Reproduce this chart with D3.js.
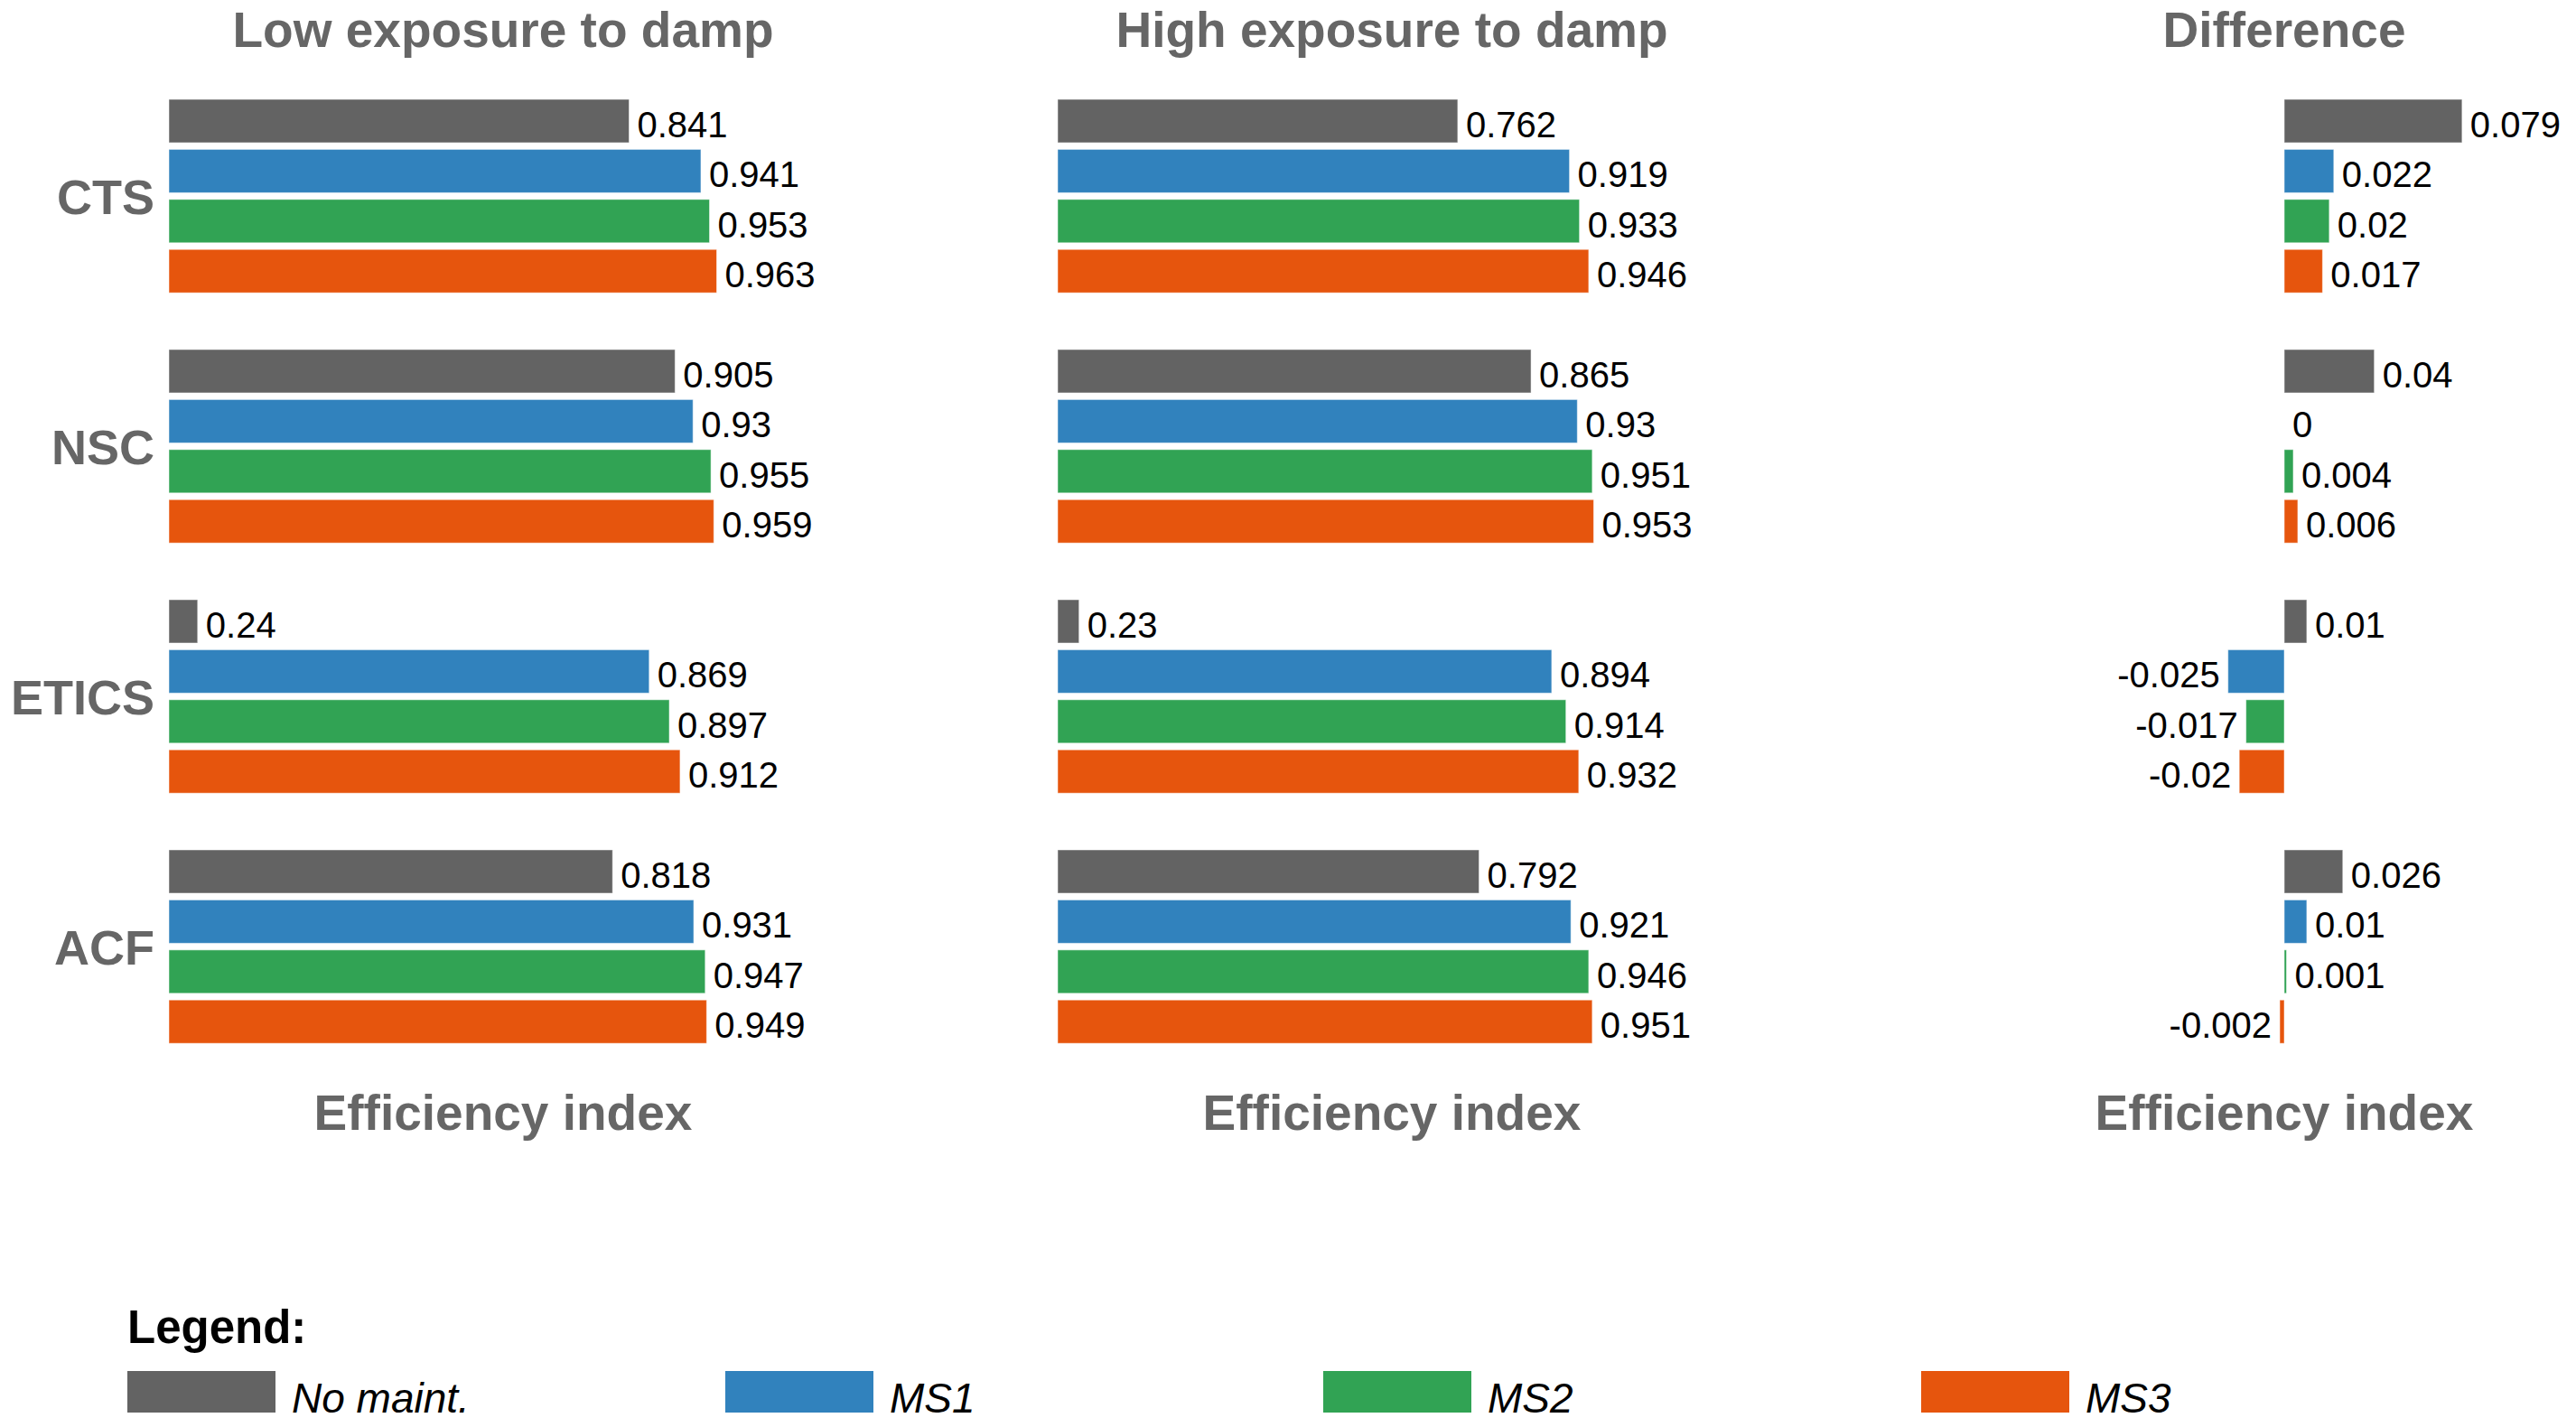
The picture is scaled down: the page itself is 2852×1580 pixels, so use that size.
<!DOCTYPE html>
<html>
<head>
<meta charset="utf-8">
<script src="https://cdn.jsdelivr.net/npm/d3@7"></script>
<style>
  html, body { margin: 0; padding: 0; background: #fff; }
  text { font-family: "Liberation Sans", Arial, Helvetica, sans-serif; }
</style>
</head>
<body>
<script>
// data
var categories = ['CTS', 'NSC', 'ETICS', 'ACF'];
var seriesNames = ['No maint.', 'MS1', 'MS2', 'MS3'];
var seriesColors = ['#636363', '#3182bd', '#31a354', '#e6550d'];

var lowValues = [
  [0.841, 0.941, 0.953, 0.963],
  [0.905, 0.93, 0.955, 0.959],
  [0.24, 0.869, 0.897, 0.912],
  [0.818, 0.931, 0.947, 0.949]
];
var highValues = [
  [0.762, 0.919, 0.933, 0.946],
  [0.865, 0.93, 0.951, 0.953],
  [0.23, 0.894, 0.914, 0.932],
  [0.792, 0.921, 0.946, 0.951]
];
var diffValues = [
  [0.079, 0.022, 0.02, 0.017],
  [0.04, 0, 0.004, 0.006],
  [0.01, -0.025, -0.017, -0.02],
  [0.026, 0.01, 0.001, -0.002]
];

var panelTitles = ['Low exposure to damp', 'High exposure to damp', 'Difference'];
var axisTitle = 'Efficiency index';

var W = 2852, H = 1580;
var svg = d3.select('body').append('svg').attr('width', W).attr('height', H);

// vertical scales shared by all panels
var y0 = d3.scaleBand().domain(categories).range([110, 1218]).padding(0);
var y1 = d3.scaleBand().domain(seriesNames).range([0, 214.2]).paddingInner(0.1336).paddingOuter(0);

var panels = [
  { title: panelTitles[0], data: lowValues, x: d3.scaleLinear().domain([0.2, 1.131]).range([187, 927]), base: 0.2 },
  { title: panelTitles[1], data: highValues, x: d3.scaleLinear().domain([0.2, 1.139]).range([1171, 1911]), base: 0.2 },
  { title: panelTitles[2], data: diffValues, x: d3.scaleLinear().domain([-0.12, 0.12]).range([2230, 2828]), base: 0 }
];

panels.forEach(function (p) {
  var g = svg.append('g');
  var cx = (p.x.range()[0] + p.x.range()[1]) / 2;
  if (p.base === 0) cx = p.x(0);

  g.append('text')
    .attr('x', cx).attr('y', 52)
    .attr('text-anchor', 'middle')
    .attr('font-size', 55).attr('font-weight', 'bold')
    .attr('fill', '#666')
    .text(p.title);

  g.append('text')
    .attr('x', cx).attr('y', 1251)
    .attr('text-anchor', 'middle')
    .attr('font-size', 55).attr('font-weight', 'bold')
    .attr('fill', '#666')
    .text(axisTitle);

  var rows = [];
  categories.forEach(function (c, i) {
    seriesNames.forEach(function (s, j) {
      rows.push({ cat: c, ser: s, j: j, v: p.data[i][j] });
    });
  });

  g.selectAll('rect.bar')
    .data(rows)
    .enter().append('rect')
    .attr('class', 'bar')
    .attr('x', function (d) { return Math.min(p.x(p.base), p.x(d.v)); })
    .attr('y', function (d) { return y0(d.cat) + y1(d.ser); })
    .attr('width', function (d) { return Math.abs(p.x(d.v) - p.x(p.base)); })
    .attr('height', y1.bandwidth())
    .attr('fill', function (d) { return seriesColors[d.j]; })
    .attr('stroke', '#fff').attr('stroke-opacity', 0.5).attr('stroke-width', 1);

  g.selectAll('text.val')
    .data(rows)
    .enter().append('text')
    .attr('class', 'val')
    .attr('x', function (d) { return d.v < 0 ? p.x(d.v) - 9 : p.x(d.v) + 9; })
    .attr('y', function (d) { return y0(d.cat) + y1(d.ser) + y1.bandwidth() / 2 + 18; })
    .attr('text-anchor', function (d) { return d.v < 0 ? 'end' : 'start'; })
    .attr('font-size', 40)
    .attr('fill', '#000')
    .text(function (d) { return String(d.v); });
});

// category labels on the left
svg.selectAll('text.cat')
  .data(categories)
  .enter().append('text')
  .attr('class', 'cat')
  .attr('x', 171)
  .attr('y', function (d) { return y0(d) + 107 + 20; })
  .attr('text-anchor', 'end')
  .attr('font-size', 54).attr('font-weight', 'bold')
  .attr('fill', '#666')
  .text(function (d) { return d; });

// legend
var legend = svg.append('g');
legend.append('text')
  .attr('x', 141).attr('y', 1487)
  .attr('font-size', 51).attr('font-weight', 'bold')
  .attr('fill', '#000')
  .text('Legend:');

var lx = d3.scalePoint().domain(seriesNames).range([141, 2127]);
var items = legend.selectAll('g.item')
  .data(seriesNames)
  .enter().append('g')
  .attr('class', 'item')
  .attr('transform', function (d) { return 'translate(' + lx(d) + ',1518)'; });
items.append('rect')
  .attr('width', 164).attr('height', 46)
  .attr('fill', function (d, i) { return seriesColors[i]; });
items.append('text')
  .attr('x', 182).attr('y', 46)
  .attr('font-size', 46).attr('font-style', 'italic')
  .attr('fill', '#000')
  .text(function (d) { return d; });
</script>
</body>
</html>
